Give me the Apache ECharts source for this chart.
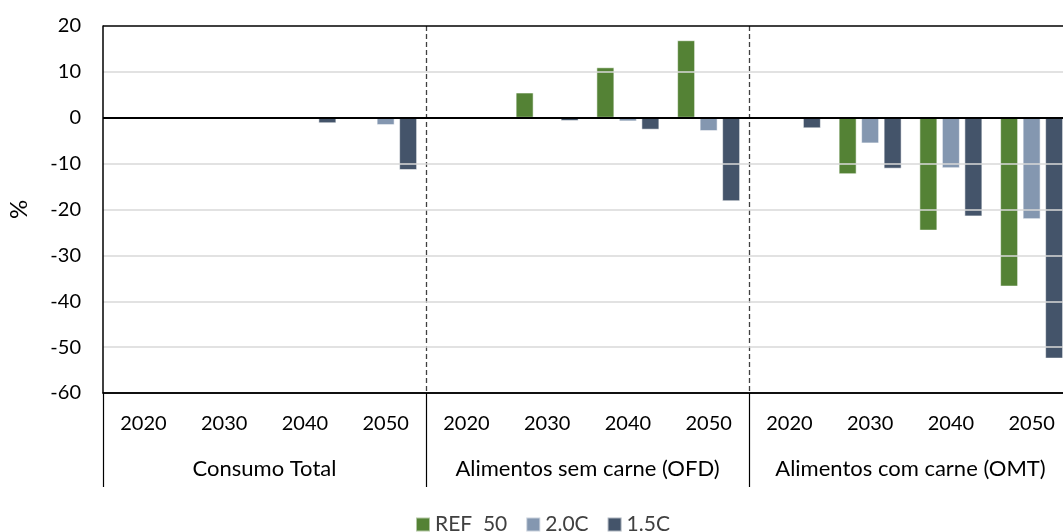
<!DOCTYPE html>
<html>
<head>
<meta charset="utf-8">
<script src="https://cdn.jsdelivr.net/npm/echarts@6/dist/echarts.min.js"></script>
<style>
html, body { margin: 0; padding: 0; background: #fff; }
#chart { width: 1063px; height: 532px; }
</style>
</head>
<body>
<div id="chart"></div>
<script>
var groups = ['Consumo Total', 'Alimentos sem carne (OFD)', 'Alimentos com carne (OMT)'];
var years = ['2020', '2030', '2040', '2050'];
var yTicks = { min: -60, max: 20, step: 10 };

// valores (%) por categoria: 4 anos x 3 grupos
var ref50 = [0, 0, 0, 0,   0, 5.5, 11.0, 16.9,   0, -12.3, -24.6, -36.8];
var c20   = [0, 0, -0.2, -1.6,   0, 0, -0.8, -2.9,   -0.2, -5.6, -11.0, -22.1];
var c15   = [0, 0, -1.2, -11.4,   0, -0.7, -2.6, -18.2,   -2.3, -11.1, -21.5, -52.5];

var FONT = 'Lato';

var cats = [];
groups.forEach(function(g, gi) {
	years.forEach(function(y) {
		cats.push(gi + '|' + y);
	});
});

var myChart = echarts.init(document.getElementById('chart'));

function barSerie(name, data, color) {
	return {
		name: name,
		type: 'bar',
		data: data,
		barWidth: 18,
		barGap: '25%',
		itemStyle: {
			color: color,
			borderColor: 'rgba(255,255,255,0.55)',
			borderWidth: 1
		}
	};
}

var series = [
	barSerie('REF  50', ref50, '#548235'),
	barSerie('2.0C', c20, '#8497B0'),
	barSerie('1.5C', c15, '#44546A')
];
// linha do zero
series[0].markLine = {
	silent: true,
	symbol: 'none',
	label: { show: false },
	lineStyle: { color: '#000', width: 2, type: 'solid' },
	data: [{ yAxis: 0 }],
	z: 10
};

var option = {
	animation: false,
	textStyle: { fontFamily: FONT },
	grid: {
		left: 103,
		top: 26,
		width: 969,
		height: 367,
		outerBoundsMode: 'none',
		containLabel: false
	},
	legend: {
		data: ['REF  50', '2.0C', '1.5C'],
		left: 410,
		top: 509,
		icon: 'rect',
		itemWidth: 14,
		itemHeight: 14,
		itemGap: 18,
		textStyle: { fontSize: 21, color: '#404040', fontFamily: FONT }
	},
	xAxis: [{
		type: 'category',
		data: cats,
		position: 'bottom',
		axisLine: { onZero: false, lineStyle: { color: '#000', width: 1.5 } },
		axisTick: { show: false },
		axisLabel: {
			interval: 0,
			margin: 21,
			fontSize: 20,
			color: '#000',
			fontFamily: FONT,
			formatter: function(v) { return v.split('|')[1]; }
		},
		splitLine: { show: false }
	}, {
		type: 'category',
		data: groups,
		position: 'bottom',
		axisLine: { show: false, onZero: false },
		axisTick: {
			show: true,
			interval: 0,
			length: 94,
			lineStyle: { color: '#000', width: 1.2 }
		},
		axisLabel: {
			interval: 0,
			margin: 65,
			fontSize: 22,
			color: '#000',
			fontFamily: FONT
		},
		splitLine: {
			show: true,
			// sem tracejado sobre o eixo vertical
			interval: function(i) { return i !== 0; },
			lineStyle: { color: '#404040', width: 1.3, type: [5, 3] }
		}
	}],
	yAxis: {
		type: 'value',
		z: 5,
		min: yTicks.min,
		max: yTicks.max,
		interval: yTicks.step,
		name: '%',
		nameLocation: 'middle',
		nameGap: 72,
		nameRotate: 90,
		nameTextStyle: { fontSize: 24, color: '#000', fontFamily: FONT },
		axisLine: { show: true, lineStyle: { color: '#000', width: 1.5 } },
		axisTick: { show: false },
		axisLabel: { fontSize: 20, color: '#000', margin: 22, fontFamily: FONT },
		splitLine: {
			show: true,
			lineStyle: {
				color: ['#000', '#d9d9d9', '#d9d9d9', '#d9d9d9', '#d9d9d9', '#d9d9d9', '#000', '#d9d9d9', '#000'],
				width: 1.5
			}
		}
	},
	series: series
};

myChart.setOption(option);
</script>
</body>
</html>
